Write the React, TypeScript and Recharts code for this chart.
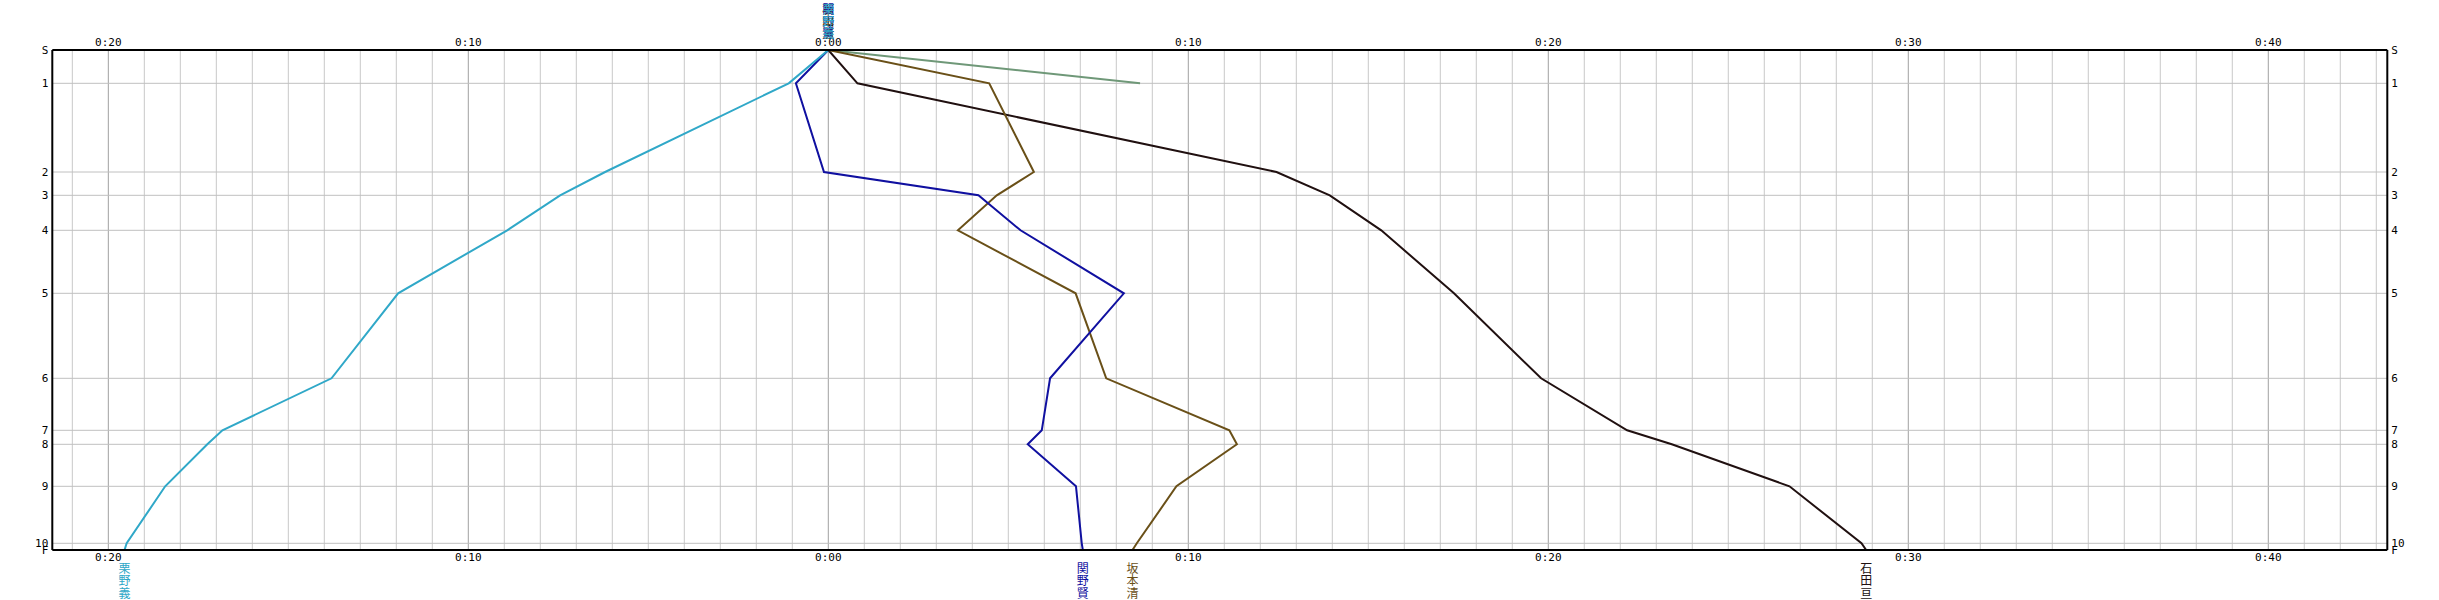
import React from 'react';
import { LineChart, Line, XAxis, YAxis, ReferenceLine } from 'recharts';

const checkpoints = ['S', '1', '2', '3', '4', '5', '6', '7', '8', '9', '10', 'F'];
const checkpointDist = [0, 33.3, 122, 145.3, 180.3, 243.3, 328.3, 380.3, 394.3, 436.3, 493.3, 500];

// minutes relative to the reference time at each checkpoint
const kurino = [0, -1.1, -6.2, -7.45, -8.92, -11.95, -13.8, -16.83, -17.25, -18.42, -19.49, -19.55];
const sekino = [0, -0.9, -0.12, 4.17, 5.34, 8.21, 6.16, 5.93, 5.54, 6.88, 7.04, 7.07];
const sakamoto = [0, 4.47, 5.71, 4.68, 3.6, 6.87, 7.72, 11.14, 11.35, 9.67, 8.57, 8.45];
const ishida = [0, 0.81, 12.45, 13.93, 15.36, 17.38, 19.8, 22.19, 23.43, 26.7, 28.7, 28.83];
const retired = [0, 8.66];

const timeTicks = [-20, -10, 0, 10, 20, 30, 40];
const minuteLines = Array.from({ length: 65 }, (_, i) => i - 21);

const data = checkpointDist.map((dist, i) => ({
  dist,
  kurino: kurino[i],
  sekino: sekino[i],
  sakamoto: sakamoto[i],
  ishida: ishida[i],
  retired: retired[i],
}));

const series = [
  { key: 'retired', name: '', color: '#6f9878' },
  { key: 'ishida', name: '石田亘', color: '#201010' },
  { key: 'sakamoto', name: '坂本清', color: '#6a5018' },
  { key: 'sekino', name: '関野賢', color: '#1010a0' },
  { key: 'kurino', name: '栗野義', color: '#30a8c8' },
];

const fmtTime = (v: number) => `0:${String(Math.abs(v)).padStart(2, '0')}`;
const tickStyle = { fontFamily: 'DejaVu Sans Mono', fontSize: 11, fill: '#000' };

const nameLabel = (name: string, color: string, last: number) => (props: any) => {
  const { x, y, index } = props;
  if (!name || (index !== 0 && index !== last)) return <g key={`l${index}`} />;
  const start = index === 0 ? y - 36.5 : y + 23;
  return (
    <g key={`l${index}`}>
      {name.split('').map((ch, i) => (
        <text
          key={i}
          x={x}
          y={start + i * 12.3}
          textAnchor="middle"
          fontSize={12}
          fontFamily="Noto Sans CJK JP"
          fill={color}
        >
          {ch}
        </text>
      ))}
    </g>
  );
};

export default function App() {
  return (
    <div style={{ position: 'absolute', left: 0, top: 0, background: '#fff' }}>
      <LineChart
        width={2439}
        height={600}
        data={data}
        layout="vertical"
        margin={{ top: 30, bottom: 30, left: 32.3, right: 31.7 }}
        style={{ overflow: 'visible' }}
      >
        <XAxis
          xAxisId="top"
          orientation="top"
          type="number"
          domain={[-21.556, 43.306]}
          allowDataOverflow
          ticks={timeTicks}
          interval={0}
          tickFormatter={fmtTime}
          tickLine={false}
          tickSize={2}
          height={20}
          tick={tickStyle}
          axisLine={{ stroke: '#000', strokeWidth: 2 }}
        />
        <XAxis
          xAxisId="bottom"
          orientation="bottom"
          type="number"
          domain={[-21.556, 43.306]}
          allowDataOverflow
          ticks={timeTicks}
          interval={0}
          tickFormatter={fmtTime}
          tickLine={false}
          tickSize={1}
          height={20}
          tick={tickStyle}
          axisLine={{ stroke: '#000', strokeWidth: 2 }}
        />
        <YAxis
          yAxisId="left"
          orientation="left"
          type="number"
          dataKey="dist"
          domain={[0, 500]}
          allowDataOverflow
          ticks={checkpointDist}
          interval={0}
          tickFormatter={(_v: number, i: number) => checkpoints[i]}
          tickLine={false}
          tickSize={2}
          width={20}
          tick={tickStyle}
          axisLine={{ stroke: '#000', strokeWidth: 2 }}
        />
        <YAxis
          yAxisId="right"
          orientation="right"
          type="number"
          dataKey="dist"
          domain={[0, 500]}
          allowDataOverflow
          ticks={checkpointDist}
          interval={0}
          tickFormatter={(_v: number, i: number) => checkpoints[i]}
          tickLine={false}
          tickSize={2}
          width={20}
          tick={tickStyle}
          axisLine={{ stroke: '#000', strokeWidth: 2 }}
        />
        {minuteLines.map((m) => (
          <ReferenceLine
            key={`m${m}`}
            x={m}
            xAxisId="bottom"
            yAxisId="left"
            stroke={m % 10 === 0 ? '#a0a0a0' : '#c8c8c8'}
            strokeWidth={1}
          />
        ))}
        {checkpointDist.slice(1, -1).map((d) => (
          <ReferenceLine key={`d${d}`} y={d} xAxisId="bottom" yAxisId="left" stroke="#c0c0c0" strokeWidth={1} />
        ))}
        {series.map((s) => {
          const vals = (data.map((r: any) => r[s.key]) as (number | undefined)[]);
          let last = -1;
          vals.forEach((v, i) => {
            if (v !== undefined) last = i;
          });
          return (
            <Line
              key={s.key}
              dataKey={s.key}
              xAxisId="bottom"
              yAxisId="left"
              type="linear"
              stroke={s.color}
              strokeWidth={2}
              dot={false}
              activeDot={false}
              isAnimationActive={false}
              label={last === checkpoints.length - 1 ? nameLabel(s.name, s.color, last) : false}
            />
          );
        })}
      </LineChart>
    </div>
  );
}
